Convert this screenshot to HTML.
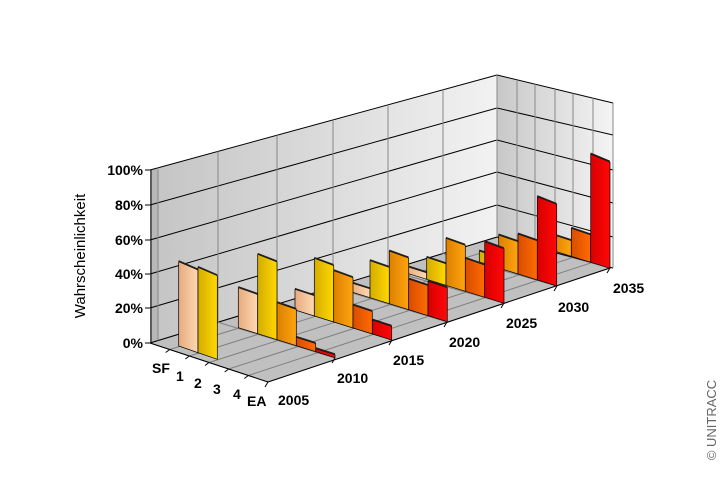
<!DOCTYPE html>
<html><head><meta charset="utf-8"><style>
html,body{margin:0;padding:0;background:#fff;}
svg{display:block;font-family:"Liberation Sans",Arial,sans-serif;}
</style></head><body>
<svg id="s" width="720" height="480" viewBox="0 0 720 480" xmlns="http://www.w3.org/2000/svg">
<defs>
<linearGradient id="wall" x1="0" y1="0" x2="1" y2="0"><stop offset="0" stop-color="#c4c4c4"/><stop offset="1" stop-color="#f2f2f2"/></linearGradient>
<linearGradient id="rwall" x1="0" y1="0" x2="1" y2="0"><stop offset="0" stop-color="#c8c8c8"/><stop offset="1" stop-color="#f4f4f4"/></linearGradient>
<linearGradient id="g0" x1="0" y1="0" x2="1" y2="0"><stop offset="0" stop-color="#e8aa80"/><stop offset="1" stop-color="#fdd9b2"/></linearGradient>
<linearGradient id="g1" x1="0" y1="0" x2="1" y2="0"><stop offset="0" stop-color="#d4ac00"/><stop offset="1" stop-color="#ffd800"/></linearGradient>
<linearGradient id="g2" x1="0" y1="0" x2="1" y2="0"><stop offset="0" stop-color="#dc8000"/><stop offset="1" stop-color="#ffa410"/></linearGradient>
<linearGradient id="g3" x1="0" y1="0" x2="1" y2="0"><stop offset="0" stop-color="#d84c00"/><stop offset="1" stop-color="#ff6c00"/></linearGradient>
<linearGradient id="g4" x1="0" y1="0" x2="1" y2="0"><stop offset="0" stop-color="#d80000"/><stop offset="1" stop-color="#ff0808"/></linearGradient>
</defs>
<polygon points="150,170 497,75 497,237 150,343" fill="url(#wall)"/>
<polygon points="150,170 158,168 158,341 150,343" fill="#b8b8b8"/>
<polygon points="497,75 613,103 613,268 497,237" fill="url(#rwall)"/>
<polygon points="150,343 497,237 610,268 268,382" fill="#c0c0c0" stroke="#808080" stroke-width="1"/>
<g id="grid"></g>
<g id="bars"></g>
<g font-weight="bold" font-size="14" fill="#000" text-anchor="end">
<text x="143" y="175">100%</text>
<text x="143" y="210">80%</text>
<text x="143" y="245">60%</text>
<text x="143" y="279">40%</text>
<text x="143" y="313">20%</text>
<text x="143" y="348">0%</text>
</g>
<g font-weight="bold" font-size="14" fill="#000">
<text x="278" y="405">2005</text>
<text x="337" y="383">2010</text>
<text x="393" y="365">2015</text>
<text x="449" y="347">2020</text>
<text x="506" y="328">2025</text>
<text x="558" y="312">2030</text>
<text x="613" y="293">2035</text>
<text x="152" y="373">SF</text>
<text x="176" y="381">1</text>
<text x="194" y="388">2</text>
<text x="213" y="394">3</text>
<text x="233" y="399">4</text>
<text x="247" y="406">EA</text>
</g>
<text x="0" y="0" font-size="15" transform="translate(85,256) rotate(-90)" text-anchor="middle">Wahrscheinlichkeit</text>
<text x="0" y="0" font-size="13" fill="#666" transform="translate(716,420) rotate(-90)" text-anchor="middle">© UNITRACC</text>
</svg>
<script>
var NS="http://www.w3.org/2000/svg";
function el(p,t,a){var e=document.createElementNS(NS,t);for(var k in a)e.setAttribute(k,a[k]);p.appendChild(e);return e;}
var grid=document.getElementById('grid');
var L=[170,205,240,274,308,343],R=[75,108,140,172,205,237],RW=[103,135,170,203,237,268];
for(var i=0;i<6;i++){
 el(grid,'line',{x1:150,y1:L[i],x2:497,y2:R[i],stroke:'#000','stroke-width':1});
 el(grid,'line',{x1:497,y1:R[i],x2:613,y2:RW[i],stroke:'#000','stroke-width':1});
 el(grid,'line',{x1:145,y1:L[i],x2:150,y2:L[i],stroke:'#000','stroke-width':1});
}
function byBack(x){return 343-0.3055*(x-150);}
function topBack(x){return 170-0.2738*(x-150);}
[158,218,277,333,388,443].forEach(function(x){el(grid,'line',{x1:x,y1:topBack(x),x2:x,y2:byBack(x),stroke:'#888','stroke-width':1});});
[517,535,555,573,593].forEach(function(x){var t=(x-497)/116;el(grid,'line',{x1:x,y1:75+28*t,x2:x,y2:237+31*t,stroke:'#888','stroke-width':1});});
el(grid,'line',{x1:497,y1:75,x2:497,y2:237,stroke:'#888','stroke-width':1});
el(grid,'line',{x1:613,y1:103,x2:613,y2:268,stroke:'#888','stroke-width':1});
el(grid,'line',{x1:151,y1:170,x2:151,y2:343,stroke:'#000','stroke-width':1});
for(var k=1;k<6;k++){var t=k/6;el(grid,'line',{x1:150+118*t,y1:343+39*t,x2:497+113*t,y2:237+31*t,stroke:'#808080','stroke-width':1});
 el(grid,'line',{x1:150+118*t,y1:343+39*t,x2:146+118*t,y2:346+39*t,stroke:'#000','stroke-width':1});}
var FB=[[268,382],[335,358],[392,340],[447,322],[504,303],[557,286],[610,268]];
var BB=[150,218,277,333,388,443,497];
for(var i=1;i<6;i++){el(grid,'line',{x1:BB[i],y1:byBack(BB[i]),x2:FB[i][0],y2:FB[i][1],stroke:'#808080','stroke-width':1});}
for(var i=0;i<7;i++){el(grid,'line',{x1:FB[i][0],y1:FB[i][1],x2:FB[i][0]-3,y2:FB[i][1]+5,stroke:'#000','stroke-width':1});}
el(grid,'line',{x1:268,y1:382,x2:610,y2:268,stroke:'#000','stroke-width':1});
el(grid,'line',{x1:150,y1:343,x2:268,y2:382,stroke:'#000','stroke-width':1});
var G=[
 [406,958,[605,622,null,null,null]],
 [585,893,[683,583,728,832,866]],
 [755,840,[688,595,632,735,780]],
 [922,785,[668,602,573,657,663]],
 [1092,730,[620,592,535,595,545]],
 [1250,678,[null,573,525,522,410]],
 [1410,625,[null,null,523,505,282]]
];
var bars=document.getElementById('bars');
function X(z){return 140+z/3;}function Y(z){return 60+z/3;}
for(var g=6;g>=0;g--){
 var F=G[g],dy=(g==0?20:18);
 for(var k=0;k<5;k++){
  var t=F[2][k]; if(t===null)continue;
  var bx0=F[0]-(5-k)*58,by0=F[1]-(5-k)*dy,bx1=bx0+58,by1=by0+dy;
  var h=by0-t;
  var pts=[[X(bx0),Y(t)],[X(bx1),Y(by1-h*0.98)],[X(bx1),Y(by1)],[X(bx0),Y(by0)]];
  el(bars,'polygon',{points:pts.map(function(p){return p[0].toFixed(1)+','+p[1].toFixed(1);}).join(' '),fill:'url(#g'+k+')',stroke:'#000','stroke-width':0.7});
  el(bars,'polygon',{points:[pts[0][0],pts[0][1]-1.5,pts[1][0],pts[1][1]-1.5,pts[1][0],pts[1][1],pts[0][0],pts[0][1]].join(' '),fill:'#222'});
 }
}
</script>
</body></html>
